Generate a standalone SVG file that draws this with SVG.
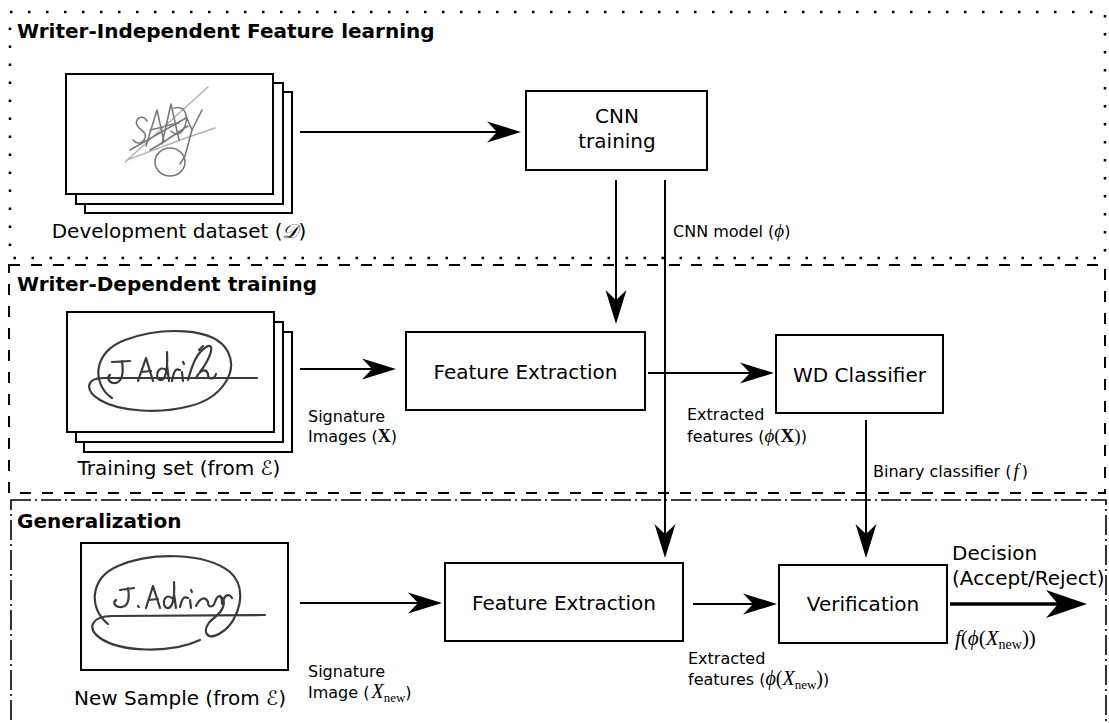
<svg xmlns="http://www.w3.org/2000/svg" width="1109" height="723" viewBox="0 0 1109 723">
<style>
.t{font-family:"DejaVu Sans","Liberation Sans",sans-serif;fill:#000}
.b20{font-size:20px;font-weight:bold}
.n20{font-size:20px}
.n16{font-size:16px}
.m{font-family:"Liberation Serif","DejaVu Serif",serif}
.mi{font-family:"Liberation Serif","DejaVu Serif",serif;font-style:italic}
.mb{font-family:"Liberation Serif","DejaVu Serif",serif;font-weight:bold}
.sc{font-family:"DejaVu Serif","DejaVu Sans",serif;font-style:italic}
.box{fill:#fff;stroke:#000;stroke-width:2}
.sheet{fill:#fff;stroke:#000;stroke-width:2}
.con{fill:none;stroke:#000;stroke-width:2}
.big{fill:none;stroke:#000;stroke-width:3.5}
.dot{fill:none;stroke:#000;stroke-width:2.5;stroke-dasharray:2.5 15.5}
.dash{fill:none;stroke:#000;stroke-width:2;stroke-dasharray:11 11}
.dd{fill:none;stroke:#000;stroke-width:1.6;stroke-dasharray:20 4 2 4}
.sg1{fill:none;stroke:#7a7a7a;stroke-width:1.6;stroke-linecap:round;stroke-linejoin:round}
.sg1l{fill:none;stroke:#b0b0b0;stroke-width:1.4;stroke-linecap:round}
.sg2{fill:none;stroke:#3a3a3a;stroke-width:2.2;stroke-linecap:round;stroke-linejoin:round}
</style>
<defs>
<marker id="ah" viewBox="-12 -12 38 24" markerWidth="38" markerHeight="24" refX="0" refY="0" orient="auto" markerUnits="userSpaceOnUse">
<path d="M24,0 L-10,-10.5 L0,0 L-10,10.5 Z" fill="#000"/>
</marker>
<marker id="ahb" viewBox="-14 -16 46 32" markerWidth="46" markerHeight="32" refX="0" refY="0" orient="auto" markerUnits="userSpaceOnUse">
<path d="M29,0 L-12,-14 L0,0 L-12,14 Z" fill="#000"/>
</marker>
</defs>
<rect width="1109" height="723" fill="#fff"/>

<g id="region-writer-independent">
<rect class="dot" x="10" y="12" width="1095" height="246"/>
<text class="t b20" x="17" y="38">Writer-Independent Feature learning</text>
</g>
<g id="region-writer-dependent">
<rect class="dash" x="9" y="265" width="1096" height="228"/>
<text class="t b20" x="17" y="291">Writer-Dependent training</text>
</g>
<g id="region-generalization">
<rect class="dd" x="11" y="500" width="1095" height="260"/>
<text class="t b20" x="17" y="528">Generalization</text>
</g>

<g id="dev-dataset">
<rect class="sheet" x="85" y="92" width="207" height="121"/>
<rect class="sheet" x="76" y="83" width="207" height="121"/>
<rect class="sheet" x="66" y="74" width="207" height="120"/>
<path class="sg1l" d="M125,162 L208,87"/>
<path class="sg1l" d="M127,160 C160,148 190,136 215,128"/>
<g class="sg1">
<ellipse cx="170" cy="162" rx="15" ry="14"/>
<path d="M147,121 C143,114 134,118 137,125 C140,132 149,131 144,140 C141,145 135,143 133,140"/>
<path d="M146,146 L157,110 L164,142 M150,130 L163,127"/>
<path d="M162,144 L171,104 L179,140 M165,126 L179,123"/>
<path d="M174,108 C186,105 190,118 183,130 C179,136 174,134 171,131"/>
<path d="M186,116 L192,130 L202,110 M192,130 L185,156 L180,164"/>
<path d="M130,150 L186,118 M150,150 C165,142 178,132 188,126"/>
</g>
<text class="t n20" x="179" y="238" text-anchor="middle">Development dataset (<tspan class="sc">𝒟</tspan>)</text>
</g>

<g id="cnn-training">
<rect class="box" x="526" y="91" width="181" height="79"/>
<text class="t n20" x="617" y="123" text-anchor="middle">CNN</text>
<text class="t n20" x="617" y="148" text-anchor="middle">training</text>
</g>

<g id="training-set">
<rect class="sheet" x="84" y="332" width="208" height="120"/>
<rect class="sheet" x="76" y="322" width="207" height="120"/>
<rect class="sheet" x="67" y="312" width="207" height="120"/>
<g class="sg2">
<path d="M112,398 C92,385 92,352 125,340 C160,327 215,326 228,352 C238,372 222,398 190,406 C160,414 120,412 100,400 C84,390 86,378 104,378 L257,378"/>
<path d="M112,362 L130,361 M122,361 C124,374 122,384 113,383 C108,382 107,377 110,375"/>
<path d="M138,381 L146,358 L153,381 M141,372 L151,371"/>
<path d="M166,370 C158,364 154,378 160,380 C165,381 168,372 167,352 M167,365 L169,381"/>
<path d="M172,381 C174,370 176,368 180,370 M182,372 L183,381 M183,362 L184,364"/>
<path d="M188,380 C192,366 196,352 208,346 C214,344 212,356 200,372 M196,378 C200,370 206,368 208,374 C208,380 214,380 216,374 M199,350 L203,346"/>
</g>
<text class="t n20" x="179" y="475" text-anchor="middle">Training set (from <tspan class="sc">ℰ</tspan>)</text>
</g>

<g id="feature-extraction-wd">
<rect class="box" x="406" y="332" width="239" height="78"/>
<text class="t n20" x="525.5" y="379" text-anchor="middle">Feature Extraction</text>
</g>

<g id="wd-classifier">
<rect class="box" x="776" y="335" width="167" height="78"/>
<text class="t n20" x="859.5" y="382" text-anchor="middle">WD Classifier</text>
</g>

<g id="new-sample">
<rect class="sheet" x="81" y="543" width="207" height="127"/>
<g class="sg2">
<path d="M108,624 C88,608 90,578 118,566 C150,552 205,552 230,572 C248,588 240,620 222,632 C205,644 200,628 214,618 C222,612 228,602 220,596 M200,640 C170,654 120,652 100,638 C86,628 92,616 112,616 L265,615"/>
<path d="M120,590 L134,588 M128,588 C130,600 128,608 119,607 C114,606 113,602 116,600 M138,606 L139,607"/>
<path d="M146,608 L153,586 L160,608 M149,600 L158,599"/>
<path d="M172,598 C164,592 161,606 167,608 C172,609 175,600 174,582 M174,594 L176,608"/>
<path d="M180,607 C182,598 184,596 188,598 M190,600 L191,608 M191,590 L192,592"/>
<path d="M196,606 C200,598 205,596 208,602 C208,608 213,608 215,602 C218,594 222,594 222,604 C224,596 228,592 232,598"/>
</g>
<text class="t n20" x="180" y="705" text-anchor="middle">New Sample (from <tspan class="sc">ℰ</tspan>)</text>
</g>

<g id="feature-extraction-gen">
<rect class="box" x="445" y="563" width="238" height="78"/>
<text class="t n20" x="564" y="610" text-anchor="middle">Feature Extraction</text>
</g>

<g id="verification">
<rect class="box" x="779" y="565" width="168" height="78"/>
<text class="t n20" x="863" y="611" text-anchor="middle">Verification</text>
</g>

<g id="connectors">
<line class="con" x1="300" y1="132" x2="497" y2="132" marker-end="url(#ah)"/>
<line class="con" x1="616" y1="180" x2="616" y2="300" marker-end="url(#ah)"/>
<line class="con" x1="665" y1="180" x2="665" y2="534" marker-end="url(#ah)"/>
<line class="con" x1="300" y1="369" x2="372" y2="369" marker-end="url(#ah)"/>
<line class="con" x1="648" y1="373" x2="750" y2="373" marker-end="url(#ah)"/>
<line class="con" x1="866" y1="420" x2="866" y2="534" marker-end="url(#ah)"/>
<line class="con" x1="300" y1="603" x2="418" y2="603" marker-end="url(#ah)"/>
<line class="con" x1="693" y1="604" x2="753" y2="604" marker-end="url(#ah)"/>
<line class="big" x1="950" y1="604" x2="1058" y2="604" marker-end="url(#ahb)"/>
</g>

<g id="labels">
<text class="t n16" x="673" y="237">CNN model (<tspan class="mi" font-size="19">ϕ</tspan>)</text>
<text class="t n16" x="308" y="422">Signature</text>
<text class="t n16" x="308" y="442">Images (<tspan class="mb" font-size="18">X</tspan>)</text>
<text class="t n16" x="687" y="420">Extracted</text>
<text class="t n16" x="687" y="442">features (<tspan class="mi" font-size="19">ϕ</tspan><tspan class="m" font-size="19">(</tspan><tspan class="mb" font-size="19">X</tspan><tspan class="m" font-size="19">)</tspan>)</text>
<text class="t n16" x="873" y="477">Binary classifier (<tspan class="mi" dx="2" font-size="19">f</tspan><tspan dx="3">)</tspan></text>
<text class="t n16" x="308" y="677">Signature</text>
<text class="t n16" x="308" y="698">Image (<tspan class="mi" dx="2" font-size="20">X</tspan><tspan class="m" font-size="13" dy="4">new</tspan><tspan dy="-4">)</tspan></text>
<text class="t n16" x="688" y="664">Extracted</text>
<text class="t n16" x="688" y="685">features (<tspan class="mi" font-size="20">ϕ</tspan><tspan class="m" font-size="20">(</tspan><tspan class="mi" font-size="20">X</tspan><tspan class="m" font-size="13" dy="4">new</tspan><tspan class="m" font-size="20" dy="-4">)</tspan>)</text>
<text class="t n20" x="952" y="560">Decision</text>
<text class="t n20" x="952" y="585">(Accept/Reject)</text>
<text class="m" font-size="21" x="955" y="645"><tspan class="mi">f</tspan>(<tspan class="mi">ϕ</tspan>(<tspan class="mi">X</tspan><tspan font-size="14" dy="4">new</tspan><tspan dy="-4">))</tspan></text>
</g>
</svg>
